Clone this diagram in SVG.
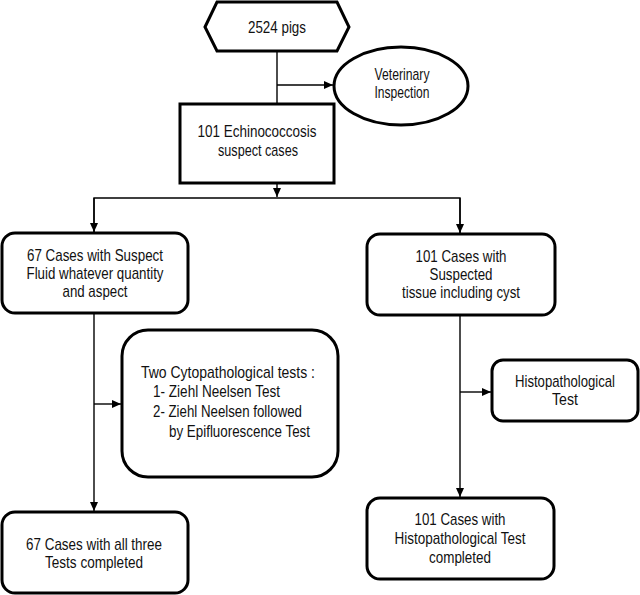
<svg xmlns="http://www.w3.org/2000/svg" width="640" height="595" viewBox="0 0 640 595">
<defs>
<marker id="arr" markerWidth="10" markerHeight="10" refX="9" refY="4" orient="auto" markerUnits="userSpaceOnUse">
<path d="M0,0 L9,4 L0,8 Z" fill="#000"/>
</marker>
<style>
.n{fill:#fff;stroke:#000;stroke-width:3}
.c{fill:none;stroke:#000;stroke-width:1.4}
.a{marker-end:url(#arr)}
text{font-family:"Liberation Sans",Arial,sans-serif;font-size:17px;fill:#111}
.m{text-anchor:middle}
</style>
</defs>
<rect width="640" height="595" fill="#fff"/>
<g id="connectors">
<line class="c" x1="277" y1="52" x2="277" y2="104"/>
<line class="c a" x1="277" y1="85" x2="333" y2="85"/>
<line class="c a" x1="277" y1="183" x2="277" y2="197"/>
<polyline class="c" points="94,232 94,198 460,198 460,233"/>
<line class="c a" x1="94" y1="198" x2="94" y2="232"/>
<line class="c a" x1="460" y1="198" x2="460" y2="233"/>
<line class="c a" x1="94" y1="313" x2="94" y2="511"/>
<line class="c a" x1="94" y1="404" x2="121" y2="404"/>
<line class="c a" x1="460" y1="315" x2="460" y2="497"/>
<line class="c a" x1="460" y1="392" x2="491" y2="392"/>
</g>
<g id="pigs">
<polygon class="n" points="205,27 217,2 337,2 349,27 337,51 217,51"/>
<text class="m" x="277" y="33" textLength="58" lengthAdjust="spacingAndGlyphs">2524 pigs</text>
</g>
<g id="vet">
<ellipse class="n" cx="401" cy="86" rx="67" ry="39"/>
<text class="m" x="402" y="80" font-size="15" textLength="55" lengthAdjust="spacingAndGlyphs">Veterinary</text>
<text class="m" x="402" y="98" font-size="15" textLength="55" lengthAdjust="spacingAndGlyphs">Inspection</text>
</g>
<g id="suspect">
<rect class="n" x="180" y="104" width="154" height="79"/>
<text class="m" x="257" y="137" textLength="119" lengthAdjust="spacingAndGlyphs">101 Echinococcosis</text>
<text class="m" x="258" y="156" textLength="80" lengthAdjust="spacingAndGlyphs">suspect cases</text>
</g>
<g id="fluid">
<rect class="n" x="2" y="233" width="186" height="80" rx="13"/>
<text class="m" x="95" y="261" textLength="136" lengthAdjust="spacingAndGlyphs">67 Cases with Suspect</text>
<text class="m" x="95" y="279" textLength="137" lengthAdjust="spacingAndGlyphs">Fluid whatever quantity</text>
<text class="m" x="95" y="297" textLength="65" lengthAdjust="spacingAndGlyphs">and aspect</text>
</g>
<g id="tissue">
<rect class="n" x="367" y="234" width="188" height="81" rx="13"/>
<text class="m" x="461" y="262" textLength="91" lengthAdjust="spacingAndGlyphs">101 Cases with</text>
<text class="m" x="461" y="280" textLength="63" lengthAdjust="spacingAndGlyphs">Suspected</text>
<text class="m" x="461" y="298" textLength="118" lengthAdjust="spacingAndGlyphs">tissue including cyst</text>
</g>
<g id="cyto">
<rect class="n" x="122" y="330" width="216" height="147" rx="26"/>
<text x="141" y="378" textLength="174" lengthAdjust="spacingAndGlyphs">Two Cytopathological tests :</text>
<text x="153" y="397" textLength="127" lengthAdjust="spacingAndGlyphs">1- Ziehl Neelsen Test</text>
<text x="153" y="417" textLength="149" lengthAdjust="spacingAndGlyphs">2- Ziehl Neelsen followed</text>
<text x="169" y="437" textLength="141" lengthAdjust="spacingAndGlyphs">by Epifluorescence Test</text>
</g>
<g id="histo">
<rect class="n" x="492" y="360" width="146" height="61" rx="11"/>
<text class="m" x="565" y="387" font-size="15" textLength="100" lengthAdjust="spacingAndGlyphs">Histopathological</text>
<text class="m" x="565" y="405" textLength="26" lengthAdjust="spacingAndGlyphs">Test</text>
</g>
<g id="all3">
<rect class="n" x="2" y="512" width="186" height="81" rx="13"/>
<text class="m" x="94" y="550" textLength="136" lengthAdjust="spacingAndGlyphs">67 Cases with all three</text>
<text class="m" x="94" y="568" textLength="98" lengthAdjust="spacingAndGlyphs">Tests completed</text>
</g>
<g id="histodone">
<rect class="n" x="367" y="498" width="187" height="81" rx="13"/>
<text class="m" x="460" y="525" textLength="91" lengthAdjust="spacingAndGlyphs">101 Cases with</text>
<text class="m" x="460" y="544" textLength="131" lengthAdjust="spacingAndGlyphs">Histopathological Test</text>
<text class="m" x="460" y="563" textLength="62" lengthAdjust="spacingAndGlyphs">completed</text>
</g>
</svg>
